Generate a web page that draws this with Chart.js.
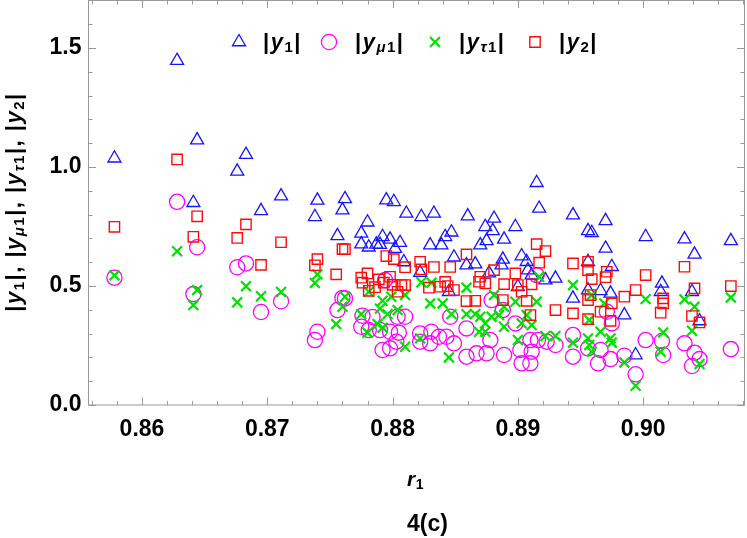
<!DOCTYPE html>
<html>
<head>
<meta charset="utf-8">
<script src="https://cdn.jsdelivr.net/npm/chart.js@4"></script>
<style>
html, body { margin: 0; padding: 0; background: #fff; }
#wrap { width: 747px; height: 538px; }
</style>
</head>
<body>
<div id="wrap"><canvas id="chart" width="747" height="538"></canvas></div>
<script>
const FONT = '"Liberation Sans", Arial, sans-serif';

const xTicks = [0.86, 0.87, 0.88, 0.89, 0.90];
const yTicks = [0.0, 0.5, 1.0, 1.5];

// [r1, |y1|]
const y1Points = [
    [0.8578,1.037],[0.8628,1.447],[0.8644,1.113],[0.8641,0.850],[0.8683,1.052],[0.8676,0.982],[0.8695,0.816],
    [0.8711,0.878],[0.8740,0.860],[0.8738,0.791],[0.8756,0.711],[0.8762,0.866],[0.8760,0.819],
    [0.8795,0.861],[0.8801,0.854],[0.8811,0.805],[0.8823,0.791],[0.8833,0.805],[0.8860,0.794],[0.8780,0.768],
    [0.8775,0.721],[0.8775,0.676],[0.8781,0.663],[0.8787,0.675],[0.8792,0.707],[0.8790,0.674],[0.8798,0.696],
    [0.8806,0.682],[0.8802,0.657],[0.8809,0.601],[0.8830,0.672],[0.8839,0.672],[0.8842,0.707],[0.8847,0.726],
    [0.8849,0.621],[0.8822,0.556],[0.8859,0.588],[0.8845,0.476],
    [0.8915,0.934],[0.8917,0.826],[0.8881,0.784],[0.8874,0.749],[0.8880,0.732],[0.8898,0.749],[0.8889,0.696],
    [0.8870,0.672],[0.8875,0.690],[0.8944,0.798],[0.8956,0.732],[0.8959,0.724],[0.8970,0.774],[0.8970,0.658],
    [0.8888,0.612],[0.8887,0.588],[0.8903,0.626],[0.8907,0.602],[0.8866,0.592],[0.8908,0.567],[0.8911,0.546],
    [0.8922,0.525],[0.8930,0.532],[0.8900,0.497],[0.8956,0.602],[0.8956,0.483],[0.8944,0.448],[0.8966,0.480],
    [0.8877,0.554],
    [0.8974,0.469],[0.8975,0.581],[0.8985,0.378],[0.8994,0.210],[0.9002,0.707],[0.9015,0.511],[0.9014,0.476],
    [0.9033,0.697],[0.9041,0.633],[0.9039,0.476],[0.9045,0.353],[0.9070,0.690]
];

// [r1, |y_mu1|]
const ymu1Points = [
    [0.8578,0.535],[0.8628,0.854],[0.8644,0.663],[0.8641,0.466],[0.8683,0.595],[0.8676,0.579],[0.8695,0.391],
    [0.8711,0.436],[0.8740,0.308],[0.8738,0.273],[0.8756,0.399],[0.8762,0.448],[0.8760,0.450],
    [0.8794,0.525],[0.8776,0.375],[0.8784,0.370],[0.8775,0.329],[0.8781,0.315],[0.8790,0.315],[0.8804,0.371],
    [0.8810,0.371],[0.8798,0.308],[0.8805,0.304],[0.8803,0.266],[0.8792,0.231],[0.8798,0.238],[0.8822,0.301],
    [0.8822,0.266],[0.8831,0.308],[0.8830,0.259],[0.8837,0.287],[0.8843,0.287],[0.8849,0.259],[0.8846,0.371],
    [0.8859,0.322],[0.8859,0.203],
    [0.8915,0.546],[0.8879,0.441],[0.8878,0.273],[0.8888,0.399],[0.8898,0.343],[0.8902,0.231],[0.8910,0.273],
    [0.8911,0.224],[0.8916,0.273],[0.8903,0.175],[0.8910,0.175],[0.8889,0.210],[0.8867,0.217],[0.8875,0.217],
    [0.8923,0.266],[0.8930,0.252],[0.8944,0.294],[0.8944,0.203],[0.8956,0.238],[0.8964,0.175],
    [0.8971,0.392],[0.8975,0.343],[0.8974,0.193],[0.8966,0.231],[0.8985,0.207],[0.8994,0.129],[0.9002,0.273],
    [0.9015,0.269],[0.9016,0.210],[0.9033,0.259],[0.9041,0.220],[0.9039,0.164],[0.9045,0.193],[0.9070,0.235]
];

// [r1, |y_tau1|]
const ytau1Points = [
    [0.8578,0.545],[0.8628,0.646],[0.8644,0.483],[0.8641,0.420],[0.8683,0.499],[0.8676,0.432],[0.8711,0.475],
    [0.8695,0.457],[0.8740,0.549],[0.8738,0.513],[0.8755,0.340],[0.8762,0.455],[0.8760,0.413],
    [0.8781,0.476],[0.8792,0.438],[0.8799,0.455],[0.8810,0.462],[0.8823,0.516],[0.8831,0.514],[0.8790,0.405],
    [0.8775,0.382],[0.8796,0.382],[0.8804,0.399],[0.8788,0.340],[0.8780,0.304],[0.8792,0.325],[0.8830,0.427],
    [0.8840,0.427],[0.8847,0.382],[0.8859,0.493],[0.8859,0.382],[0.8822,0.280],[0.8810,0.245],[0.8845,0.200],
    [0.8917,0.539],[0.8881,0.462],[0.8898,0.434],[0.8915,0.434],[0.8907,0.378],[0.8903,0.343],[0.8911,0.336],
    [0.8900,0.273],[0.8922,0.290],[0.8930,0.290],[0.8944,0.504],[0.8944,0.262],[0.8959,0.462],[0.8957,0.357],
    [0.8956,0.280],[0.8957,0.252],[0.8959,0.224],[0.8966,0.308],[0.8866,0.382],[0.8870,0.371],[0.8874,0.343],
    [0.8879,0.371],[0.8885,0.378],[0.8889,0.329],[0.8869,0.308],[0.8874,0.308],[0.8889,0.413],
    [0.8969,0.427],[0.8974,0.280],[0.8975,0.262],[0.8985,0.179],[0.8994,0.081],[0.9002,0.445],[0.9016,0.305],
    [0.9014,0.224],[0.9033,0.444],[0.9041,0.413],[0.9039,0.312],[0.9045,0.172],[0.9070,0.452]
];

// [r1, |y2|]
const y2Points = [
    [0.8578,0.749],[0.8628,1.032],[0.8644,0.793],[0.8641,0.707],[0.8683,0.759],[0.8676,0.702],[0.8711,0.684],
    [0.8695,0.589],[0.8740,0.613],[0.8738,0.587],[0.8755,0.549],[0.8760,0.655],[0.8762,0.655],
    [0.8795,0.626],[0.8801,0.613],[0.8810,0.579],[0.8822,0.602],[0.8823,0.570],[0.8833,0.580],[0.8846,0.580],
    [0.8859,0.633],[0.8775,0.535],[0.8780,0.553],[0.8776,0.514],[0.8789,0.528],[0.8798,0.539],[0.8793,0.514],
    [0.8786,0.495],[0.8781,0.480],[0.8800,0.505],[0.8807,0.504],[0.8810,0.504],[0.8804,0.476],[0.8829,0.493],
    [0.8838,0.497],[0.8842,0.517],[0.8844,0.500],[0.8849,0.483],[0.8859,0.437],
    [0.8915,0.676],[0.8922,0.647],[0.8917,0.598],[0.8881,0.567],[0.8870,0.539],[0.8869,0.518],[0.8874,0.511],
    [0.8889,0.508],[0.8898,0.553],[0.8900,0.504],[0.8903,0.476],[0.8911,0.507],[0.8907,0.438],[0.8888,0.441],
    [0.8866,0.438],[0.8910,0.378],[0.8930,0.399],[0.8944,0.595],[0.8944,0.385],[0.8956,0.602],[0.8956,0.567],
    [0.8959,0.529],[0.8958,0.462],[0.8956,0.441],[0.8956,0.361],[0.8966,0.392],
    [0.8971,0.560],[0.8970,0.537],[0.8975,0.427],[0.8974,0.354],[0.8985,0.455],[0.8994,0.483],[0.9002,0.546],
    [0.9016,0.448],[0.9016,0.427],[0.9014,0.388],[0.9033,0.581],[0.9041,0.490],[0.9039,0.374],[0.9045,0.347],
    [0.9070,0.500]
];

const BLUE = 'rgb(20,20,255)';
const MAGENTA = 'rgb(255,0,255)';
const GREEN = 'rgb(0,225,0)';
const RED = 'rgb(255,10,10)';

const toXY = pts => pts.map(p => ({ x: p[0], y: p[1] }));

// pieces: [text, kind] ; kind: b = bold, bi = bold italic, s = subscript, si = italic subscript
function drawRich(ctx, pieces, x0, cy, size, align, gap = 1.5) {
    const sub = Math.round(size * 0.68);
    const fontOf = k => ({
        b: `bold ${size}px ${FONT}`,
        bi: `italic bold ${size}px ${FONT}`,
        s: `bold ${sub}px ${FONT}`,
        si: `italic bold ${sub}px ${FONT}`
    })[k];
    ctx.textBaseline = 'alphabetic';
    ctx.textAlign = 'left';
    let total = -gap;
    const widths = pieces.map(([t, k]) => { ctx.font = fontOf(k); const w = ctx.measureText(t).width; total += w + gap; return w; });
    let x = align === 'left' ? x0 : x0 - total / 2;
    const base = cy + size * 0.28;
    pieces.forEach(([t, k], i) => {
        ctx.font = fontOf(k);
        const dy = (k === 's' || k === 'si') ? size * 0.16 : 0;
        ctx.fillText(t, x, base + dy);
        x += widths[i] + gap;
    });
}

const label = {
    y1: [['|', 'b'], ['y', 'bi'], ['1', 's'], ['|', 'b']],
    ymu1: [['|', 'b'], ['y', 'bi'], ['\u03bc', 'si'], ['1', 's'], ['|', 'b']],
    ytau1: [['|', 'b'], ['y', 'bi'], ['\u03c4', 'si'], ['1', 's'], ['|', 'b']],
    y2: [['|', 'b'], ['y', 'bi'], ['2', 's'], ['|', 'b']]
};

function marker(ctx, kind, x, y) {
    ctx.save();
    ctx.beginPath();
    if (kind === 'triangle') {
        ctx.strokeStyle = BLUE; ctx.lineWidth = 1.3;
        ctx.moveTo(x, y - 7.5); ctx.lineTo(x + 6.5, y + 3.75); ctx.lineTo(x - 6.5, y + 3.75); ctx.closePath();
    } else if (kind === 'circle') {
        ctx.strokeStyle = MAGENTA; ctx.lineWidth = 1.3;
        ctx.arc(x, y, 7.6, 0, Math.PI * 2);
    } else if (kind === 'cross') {
        ctx.strokeStyle = GREEN; ctx.lineWidth = 2.2;
        ctx.moveTo(x - 5, y - 5); ctx.lineTo(x + 5, y + 5); ctx.moveTo(x + 5, y - 5); ctx.lineTo(x - 5, y + 5);
    } else {
        ctx.strokeStyle = RED; ctx.lineWidth = 1.4;
        ctx.rect(x - 5.2, y - 5.2, 10.4, 10.4);
    }
    ctx.stroke();
    ctx.restore();
}

const framePlugin = {
    id: 'frame',
    afterDatasetsDraw(chart) {
        const { ctx, chartArea: a, scales: { x, y } } = chart;
        ctx.save();
        ctx.strokeStyle = '#999';
        ctx.lineWidth = 1;
        ctx.strokeRect(a.left, a.top, a.right - a.left, a.bottom - a.top);
        ctx.beginPath();
        for (let i = 428; i <= 454; i++) {
            const px = Math.round(x.getPixelForValue(i * 0.002)) + 0.5;
            if (px < a.left || px > a.right) continue;
            const len = i % 5 === 0 ? 7.5 : 4;
            ctx.moveTo(px, a.bottom); ctx.lineTo(px, a.bottom - len);
            ctx.moveTo(px, a.top); ctx.lineTo(px, a.top + len);
        }
        for (let i = 0; i <= 17; i++) {
            const py = Math.round(y.getPixelForValue(i * 0.1)) + 0.5;
            const len = i % 5 === 0 ? 7.5 : 4;
            ctx.moveTo(a.left, py); ctx.lineTo(a.left + len, py);
            ctx.moveTo(a.right, py); ctx.lineTo(a.right - len, py);
        }
        ctx.stroke();
        ctx.restore();
    },
    afterDraw(chart) {
        const { ctx, chartArea: a } = chart;
        ctx.save();
        ctx.fillStyle = '#000';
        // legend
        const items = [['triangle', 'y1', 239, 263], ['circle', 'ymu1', 329, 355], ['cross', 'ytau1', 435, 459], ['square', 'y2', 535, 559]];
        items.forEach(([kind, key, mx, tx]) => {
            marker(ctx, kind, mx, 42);
            drawRich(ctx, label[key], tx, 42.5, 22, 'left');
        });
        // y axis title
        ctx.save();
        ctx.translate(14.5, (a.top + a.bottom) / 2);
        ctx.rotate(-Math.PI / 2);
        const comma = [',', 'b'];
        const space = [' ', 'b'];
        drawRich(ctx, [...label.y1, comma, space, ...label.ymu1, comma, space, ...label.ytau1, comma, space, ...label.y2], 0, 0, 22);
        ctx.restore();
        // x axis title and caption
        drawRich(ctx, [['r', 'bi'], ['1', 's']], 407, 480, 21, 'left', 0.5);
        ctx.font = `bold 23px ${FONT}`;
        ctx.textAlign = 'left';
        ctx.textBaseline = 'middle';
        ctx.fillText('4(c)', 407, 525);
        ctx.restore();
    }
};

const tickFont = { family: FONT, size: 23, weight: 'bold' };
const noPad = s => { s.paddingTop = 0; s.paddingBottom = 0; s.paddingLeft = 0; s.paddingRight = 0; };

new Chart(document.getElementById('chart'), {
    type: 'scatter',
    data: {
        datasets: [
            { label: '|y1|', data: toXY(y1Points), pointStyle: 'triangle', pointRadius: 7.5, borderColor: BLUE, backgroundColor: 'transparent', borderWidth: 1.3, order: 4 },
            { label: '|ymu1|', data: toXY(ymu1Points), pointStyle: 'circle', pointRadius: 7.6, borderColor: MAGENTA, backgroundColor: 'transparent', borderWidth: 1.3, order: 3 },
            { label: '|ytau1|', data: toXY(ytau1Points), pointStyle: 'crossRot', pointRadius: 7, borderColor: GREEN, backgroundColor: 'transparent', borderWidth: 2.2, order: 2 },
            { label: '|y2|', data: toXY(y2Points), pointStyle: 'rect', pointRadius: 7.3, borderColor: RED, backgroundColor: 'transparent', borderWidth: 1.4, order: 1 }
        ]
    },
    options: {
        responsive: false,
        animation: false,
        events: [],
        layout: { autoPadding: false, padding: { top: 0.5, right: 2.5, left: 0, bottom: 0 } },
        plugins: { legend: { display: false }, tooltip: { enabled: false } },
        scales: {
            x: {
                type: 'linear',
                min: 0.85573,
                max: 0.90809,
                grid: { display: false, drawTicks: false },
                border: { display: false },
                afterBuildTicks: s => { s.ticks = xTicks.map(v => ({ value: v })); },
                afterFit: s => { s.height = 133; noPad(s); },
                ticks: { font: tickFont, color: '#000', padding: 11, maxRotation: 0, autoSkip: false, callback: v => v.toFixed(2) }
            },
            y: {
                type: 'linear',
                min: 0,
                max: 1.7,
                grid: { display: false, drawTicks: false },
                border: { display: false },
                afterBuildTicks: s => { s.ticks = yTicks.map(v => ({ value: v })); },
                afterFit: s => { s.width = 88.5; noPad(s); },
                ticks: { font: tickFont, color: '#000', padding: 7, autoSkip: false, callback: v => v.toFixed(1) }
            }
        }
    },
    plugins: [framePlugin]
});
</script>
</body>
</html>
